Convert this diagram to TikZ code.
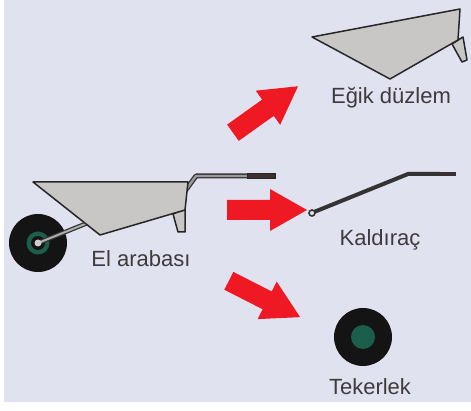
\documentclass[tikz,border=0pt]{standalone}
\usepackage{fontspec}
\setmainfont{Liberation Sans}
\begin{document}
\begin{tikzpicture}[x=1pt,y=-1pt,
  outline/.style={draw=black!85,line width=1.5pt,line join=round},
  tray/.style={outline,fill=trayfill},
  arrowshape/.style={fill=arrowred},
  caption/.style={text=labelgray,font=\fontsize{22}{25}\selectfont,inner sep=0pt,anchor=base},
  tyre/.style={fill=black!92,draw=none},
  hubring/.style={fill=hubgreen,draw=none}]
\definecolor{bg}{HTML}{E1E2EF}
\definecolor{trayfill}{HTML}{C9C7C6}
\definecolor{arrowred}{HTML}{EE1922}
\definecolor{labelgray}{HTML}{3C3C3C}
\definecolor{hubgreen}{HTML}{1C5E4C}
\definecolor{gripbrown}{HTML}{3A2E2E}
\definecolor{bargray}{HTML}{9A9A9A}

% canvas and backdrop
\useasboundingbox (0,0) rectangle (471,411);
\fill[white] (0,0) rectangle (471,411);
\fill[bg] (4,0) rectangle (471,402);

% ---------- wheelbarrow ----------
% wheel
\fill[tyre] (38,243) circle (29);
\fill[hubring] (38,243) circle (11.5);
\fill[black!92] (38,243) circle (7);
% axle strut (dark outline with grey core)
\draw[black!80,line width=4.5pt,line cap=round] (38,243) -- (90,222);
\draw[bargray!80,line width=2pt,line cap=round] (38,243) -- (90,222);
\fill[bargray!50] (38,243) circle (3.5);
% handle
\draw[black!80,line width=5pt,line join=round] (185,191) -- (196,176) -- (250,176);
\draw[bargray,line width=2.4pt,line join=round] (185,191) -- (196,176) -- (250,176);
\draw[black!85,line width=1pt,fill=gripbrown] (247,173.5) rectangle (275,179);
% leg
\draw[tray] (173,214) -- (178,232) -- (185,232) -- (185,209) -- cycle;
% tray
\draw[tray] (33,182) -- (188,182) -- (185,210) -- (100,235) -- cycle;
\node[caption] (elarabasi) at (141,267) {El arabası};

% ---------- inclined plane ----------
\draw[tray] (452,44) -- (462,62) -- (467,60) -- (463,37) -- cycle;
\draw[tray] (312,37) -- (460,9) -- (458,40) -- (390,79) -- cycle;
\node[caption] (egik) at (391,104) {Eğik düzlem};

% ---------- lever ----------
\draw[black!80,line width=4pt,line cap=round,line join=round] (314,212) -- (408,174) -- (440,174);
\draw[gripbrown,line width=4.5pt] (440,174) -- (456,174);
\draw[black!80,line width=1.6pt,fill=bg] (312,213) circle (3);
\node[caption] (kaldirac) at (380,246) {Kaldıraç};

% ---------- wheel ----------
\fill[tyre] (363,337) circle (29);
\fill[hubring] (363,337) circle (12);
\node[caption] (tekerlek) at (370,394) {Tekerlek};

% ---------- red block arrows ----------
\foreach \cx/\cy/\ang in {265.5/109.5/35.5, 267/210/0, 264.5/299/-27}{
  \fill[arrowshape,shift={(\cx,\cy)},rotate=\ang]
    (-40,-10) -- (3,-10) -- (3,-21) -- (40,0) -- (3,21) -- (3,10) -- (-40,10) -- cycle;
}
\end{tikzpicture}
\end{document}
